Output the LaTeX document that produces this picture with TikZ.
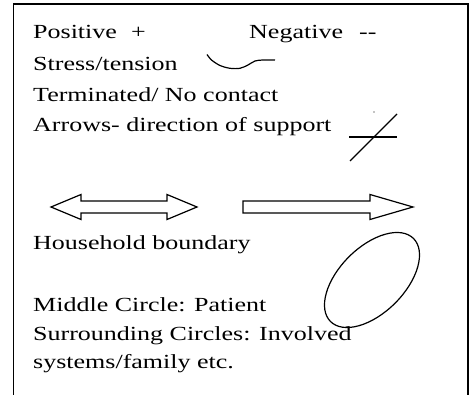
\documentclass[tikz,border=0pt]{standalone}
\usepackage{fontspec}
\setmainfont[FakeStretch=1.3]{Liberation Serif}

\begin{document}
\begin{tikzpicture}[x = 1pt, y = -1pt,
  legend/.style = {anchor = base west, inner sep = 0pt, font = \fontsize{20}{24}\selectfont},
  symbol/.style = {line width = 1.2pt, line join = miter}]

  \useasboundingbox (0, 0) rectangle (474, 395);

  % frame, open at the bottom
  \draw[line width = 1.3pt] (13.5, 395) -- (13.5, 4) -- (468, 4) -- (468, 395);

  \node[legend] (positive) at ( 33, 39) {Positive};
  \node[legend] (plus)     at (131, 39) {+};
  \node[legend] (negative) at (249, 39) {Negative};
  \node[legend] (minus)    at (359, 39) {-{}-};

  \node[legend] (stress) at (33, 71) {Stress/tension};
  \draw[symbol] plot[smooth] coordinates {(207, 54.5) (211.5, 60) (220, 65.5) (230, 68.3)
    (240, 68.3) (248, 65) (255, 61) (263, 60) (275, 60)};

  \node[legend] (terminated) at (33, 102) {Terminated/ No contact};

  \node[legend] (arrows) at (33, 132) {Arrows- direction of support};
  \draw[symbol] (349, 137) -- (397, 137);
  \draw[symbol] (350, 161) -- (397, 114);
  \fill (374, 112) circle (0.6);

  % two way and one way support
  \draw[symbol] (51, 207) -- (81, 194.5) -- (81, 201) -- (167, 201) -- (167, 194.5)
    -- (197, 207) -- (167, 219.5) -- (167, 213) -- (81, 213) -- (81, 219.5) -- cycle;
  \draw[symbol] (243, 201) -- (370, 201) -- (370, 194.5) -- (413, 207)
    -- (370, 219.5) -- (370, 213) -- (243, 213) -- cycle;

  \node[legend] (household) at (33, 250) {Household boundary};
  \draw[symbol, shift = {(372, 280)}, rotate = 45] (0, 0) ellipse [x radius = 58.7, y radius = 32.7];

  \node[legend] (middle)      at (33, 312) {Middle Circle: Patient};
  \node[legend] (surrounding) at (33, 341) {Surrounding Circles: Involved};
  \node[legend] (systems)     at (33, 369) {systems/family etc.};

\end{tikzpicture}
\end{document}
